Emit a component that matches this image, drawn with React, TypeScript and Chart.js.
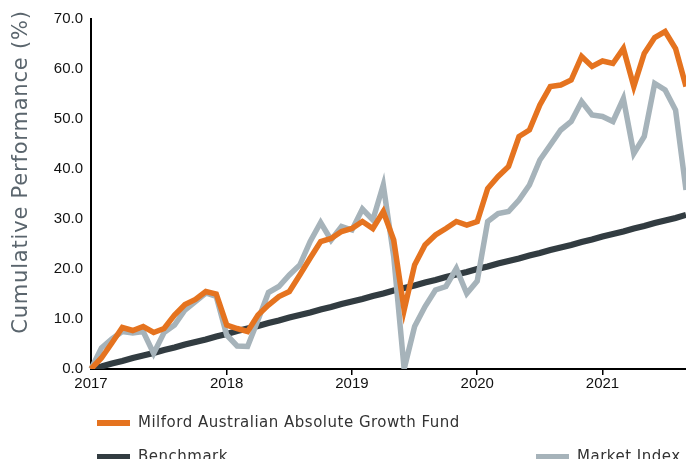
import React, { useEffect, useRef } from "react";
import { Chart, registerables } from "chart.js";

Chart.register(...registerables);

const months = [
  "2016-12",
  "2017-01", "2017-02", "2017-03", "2017-04", "2017-05", "2017-06", "2017-07", "2017-08", "2017-09", "2017-10", "2017-11", "2017-12",
  "2018-01", "2018-02", "2018-03", "2018-04", "2018-05", "2018-06", "2018-07", "2018-08", "2018-09", "2018-10", "2018-11", "2018-12",
  "2019-01", "2019-02", "2019-03", "2019-04", "2019-05", "2019-06", "2019-07", "2019-08", "2019-09", "2019-10", "2019-11", "2019-12",
  "2020-01", "2020-02", "2020-03", "2020-04", "2020-05", "2020-06", "2020-07", "2020-08", "2020-09", "2020-10", "2020-11", "2020-12",
  "2021-01", "2021-02", "2021-03", "2021-04", "2021-05", "2021-06", "2021-07", "2021-08", "2021-09",
];

const fund = [
  0, 2.2, 5.2, 8.3, 7.7, 8.5, 7.3, 8.1, 10.8, 12.9, 13.9, 15.5, 15.0,
  8.8, 8.1, 7.5, 10.8, 12.8, 14.5, 15.5, 18.8, 22.2, 25.5, 26.1, 27.5,
  28.1, 29.5, 28.1, 31.5, 25.8, 11.8, 20.8, 24.8, 26.8, 28.1, 29.5, 28.8,
  29.5, 36.1, 38.5, 40.5, 46.5, 47.8, 52.8, 56.5, 56.8, 57.8, 62.5, 60.5,
  61.6, 61.1, 64.1, 56.5, 63.1, 66.3, 67.5, 64.1, 56.5,
];

const marketIndex = [
  0, 4.2, 6.0, 7.5, 7.2, 7.5, 3.1, 7.3, 8.8, 11.8, 13.5, 15.2, 14.5,
  6.8, 4.6, 4.5, 9.8, 15.3, 16.5, 18.8, 20.8, 25.5, 29.3, 25.8, 28.5,
  27.8, 32.0, 29.8, 36.8, 22.5, 0.0, 8.5, 12.5, 15.8, 16.5, 20.1, 15.1,
  17.6, 29.5, 31.1, 31.5, 33.8, 36.8, 41.8, 44.8, 47.8, 49.5, 53.5, 50.8,
  50.5, 49.5, 54.1, 43.1, 46.5, 57.1, 55.8, 51.8, 35.8,
];

const benchmark = [
  0, 0.5, 1.1, 1.6, 2.2, 2.7, 3.2, 3.8, 4.3, 4.9, 5.4, 5.9, 6.5,
  7.0, 7.6, 8.1, 8.6, 9.2, 9.7, 10.3, 10.8, 11.3, 11.9, 12.4, 13.0,
  13.5, 14.0, 14.6, 15.1, 15.7, 16.2, 16.7, 17.3, 17.8, 18.4, 18.9, 19.4,
  20.0, 20.5, 21.1, 21.6, 22.1, 22.7, 23.2, 23.8, 24.3, 24.8, 25.4, 25.9,
  26.5, 27.0, 27.5, 28.1, 28.6, 29.2, 29.7, 30.2, 30.8,
];

const yearTickIndices = [0, 13, 25, 37, 49];
const yearTickLabels = ["2017", "2018", "2019", "2020", "2021"];

const seriesNames = ["Milford Australian Absolute Growth Fund", "Benchmark", "Market Index"];
const yAxisTitle = "Cumulative Performance (%)";

const ORANGE = "#e5731f";
const GREY = "#a6b3ba";
const DARK = "#323c41";

const overlayPlugin = {
  id: "overlay",
  afterDraw(chart: any) {
    const ctx = chart.ctx as any;
    ctx.save();
    // y-axis title
    ctx.save();
    ctx.translate(22, 172);
    ctx.rotate(-Math.PI / 2);
    ctx.font = '21px "DejaVu Sans"';
    ctx.letterSpacing = "0.8px";
    ctx.fillStyle = "#5a656d";
    ctx.textAlign = "center";
    ctx.textBaseline = "middle";
    ctx.fillText(yAxisTitle, 0, 0);
    ctx.restore();

    // legend
    const items = [
      { name: seriesNames[0], color: ORANGE, x: 97, y: 423 },
      { name: seriesNames[1], color: DARK, x: 97, y: 457 },
      { name: seriesNames[2], color: GREY, x: 536, y: 457 },
    ];
    ctx.font = '15px "DejaVu Sans"';
    ctx.letterSpacing = "0.5px";
    ctx.textAlign = "left";
    ctx.textBaseline = "alphabetic";
    for (const it of items) {
      ctx.fillStyle = it.color;
      ctx.fillRect(it.x, it.y - 3, 33, 6);
      ctx.fillStyle = "#333333";
      ctx.fillText(it.name, it.x + 41, it.y + 4);
    }
    ctx.restore();
  },
};

export default function App() {
  const canvasRef = useRef<HTMLCanvasElement | null>(null);

  useEffect(() => {
    document.body.style.margin = "0";
    const canvas = canvasRef.current;
    if (!canvas) return;
    const chart = new Chart(canvas, {
      type: "line",
      data: {
        labels: months,
        datasets: [
          {
            label: seriesNames[0],
            data: fund,
            borderColor: ORANGE,
            backgroundColor: ORANGE,
            borderWidth: 5.5,
            pointRadius: 0,
            tension: 0,
            borderJoinStyle: "miter",
          },
          {
            label: seriesNames[2],
            data: marketIndex,
            borderColor: GREY,
            backgroundColor: GREY,
            borderWidth: 5.5,
            pointRadius: 0,
            tension: 0,
            borderJoinStyle: "miter",
          },
          {
            label: seriesNames[1],
            data: benchmark,
            borderColor: DARK,
            backgroundColor: DARK,
            borderWidth: 6,
            pointRadius: 0,
            tension: 0,
          },
        ],
      },
      options: {
        responsive: false,
        animation: false,
        events: [],
        layout: { padding: { top: 19, bottom: 60, left: 0, right: 0 } },
        plugins: {
          legend: { display: false },
          tooltip: { enabled: false },
          title: { display: false },
        },
        scales: {
          x: {
            type: "category",
            offset: false,
            afterFit: (s: any) => {
              s.height = 30;
            },
            grid: {
              display: true,
              drawOnChartArea: false,
              drawTicks: true,
              tickLength: 6,
              lineWidth: 1.5,
              color: (c: any) => (yearTickIndices.includes(c.index) && c.index !== 0 ? "#000000" : "rgba(0,0,0,0)"),
            },
            border: { display: true, color: "#000000", width: 2 },
            ticks: {
              autoSkip: false,
              maxRotation: 0,
              minRotation: 0,
              padding: 0,
              color: "#111111",
              font: { family: '"Liberation Sans", Arial, sans-serif', size: 15 },
              callback: (_v: any, i: number) => {
                const k = yearTickIndices.indexOf(i);
                return k >= 0 ? yearTickLabels[k] : "";
              },
            },
          },
          y: {
            min: 0,
            max: 70,
            afterFit: (s: any) => {
              s.width = 91;
            },
            grid: { display: false, drawTicks: false },
            border: { display: true, color: "#000000", width: 2 },
            ticks: {
              stepSize: 10,
              padding: 8,
              color: "#111111",
              font: { family: '"Liberation Sans", Arial, sans-serif', size: 15 },
              callback: (v: any) => Number(v).toFixed(1),
            },
          },
        },
      },
      plugins: [overlayPlugin],
    });
    return () => chart.destroy();
  }, []);

  return (
    <div style={{ width: 686, height: 459, position: "relative", overflow: "hidden" }}>
      <canvas ref={canvasRef} width={686} height={459} style={{ display: "block" }} />
    </div>
  );
}
